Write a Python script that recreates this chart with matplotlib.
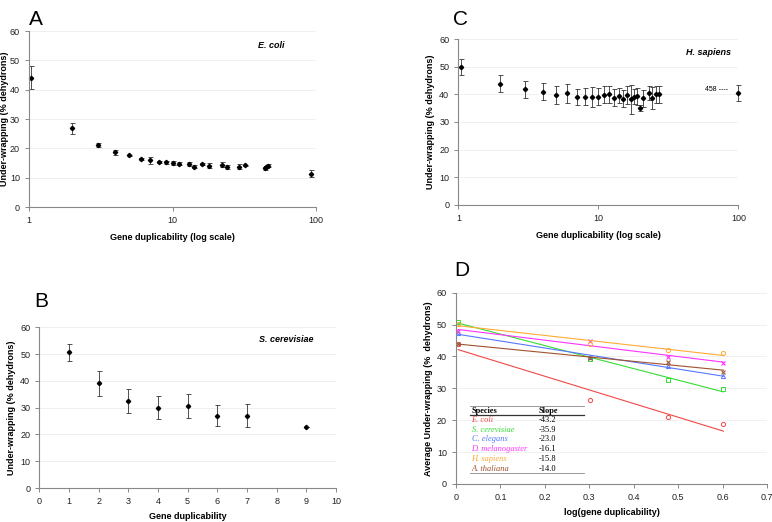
import numpy as np
import matplotlib
matplotlib.use("Agg")
import matplotlib.pyplot as plt

plt.rcParams["font.family"] = ["Liberation Sans", "DejaVu Sans"]

# Panel A - E. coli
ecoli_dup = [1.03, 2, 3, 4, 5, 6, 7, 8, 9, 10, 11, 13, 14, 16, 18, 22, 24, 29, 32, 44, 45, 46, 92]
ecoli_val = [44.1, 26.8, 21.2, 18.7, 17.6, 16.4, 15.9, 15.4, 15.2, 15.0, 14.7, 14.6, 13.8, 14.7, 14.1,
             14.5, 13.7, 13.8, 14.2, 13.2, 13.7, 14.1, 11.3]
ecoli_err = [4.0, 1.8, 0.8, 0.9, 0.3, 0.3, 1.3, 0.4, 0.4, 0.7, 0.5, 0.6, 0.4, 0.3, 0.8,
             0.9, 0.6, 1.0, 0.3, 0.5, 0.4, 0.6, 1.2]

# Panel B - S. cerevisiae
yeast_dup = [1, 2, 3, 4, 5, 6, 7, 9]
yeast_val = [50.7, 39.1, 32.6, 30.0, 30.5, 27.0, 27.0, 22.7]
yeast_err = [3.2, 4.6, 4.5, 4.3, 4.5, 3.9, 4.2, 0.0]

# Panel C - H. sapiens
human_dup = [1.05, 2, 3, 4, 5, 6, 7, 8, 9, 10, 11, 12, 13, 14, 15, 16, 17, 18, 19, 20, 21, 23, 24, 26, 27, 100]
human_val = [50.1, 43.8, 41.8, 41.0, 39.8, 40.4, 39.2, 39.2, 39.2, 39.2, 39.9, 40.0, 38.8, 39.5, 38.5,
             39.8, 38.2, 39.2, 39.3, 35.0, 38.6, 40.4, 38.8, 40.0, 40.0, 40.6]
human_err = [2.9, 3.1, 3.0, 3.0, 3.4, 3.5, 2.9, 3.1, 3.6, 3.2, 3.0, 3.1, 3.0, 2.8, 3.0,
             3.2, 5.2, 2.6, 3.1, 1.0, 3.0, 2.5, 4.0, 3.0, 3.0, 2.9]

# Panel D - averages vs log(duplicability)
log_dup = [0.005, 0.301, 0.477, 0.602]
species = ["E. coli", "S. cerevisiae", "C. elegans", "D. melanogaster", "H. sapiens", "A. thaliana"]
slopes = ["-43.2", "-35.9", "-23.0", "-16.1", "-15.8", "-14.0"]
avg_vals = [
    [43.8, 26.5, 21.1, 18.7],
    [50.9, 39.2, 32.6, 29.8],
    [47.2, 39.7, 37.0, 33.8],
    [47.9, 44.7, 39.8, 38.0],
    [50.3, 43.8, 42.0, 41.1],
    [43.9, 39.4, 38.3, 35.2],
]
colors = ["#f04848", "#33dd33", "#5577ff", "#ff33ff", "#ffaa33", "#a0522d"]
markers = ["o", "s", "^", "x", "o", "x"]

GRAY = "#888888"


def style_axes(ax):
    for s in ["top", "right"]:
        ax.spines[s].set_visible(False)
    for s in ["left", "bottom"]:
        ax.spines[s].set_color(GRAY)
        ax.spines[s].set_linewidth(0.8)
    ax.tick_params(colors=GRAY, labelcolor="#222222", labelsize=6.5, length=3, width=0.7)
    ax.set_ylim(0, 60)
    ax.set_yticks(range(0, 61, 10))
    ax.yaxis.grid(True, color="#eeeeee", linewidth=0.6)
    ax.set_axisbelow(True)


def ylab(ax, text, xpos):
    ax.set_ylabel(text, fontsize=6.5, fontweight="bold")
    ax.yaxis.set_label_coords(xpos, 0.5)


fig = plt.figure(figsize=(7.72, 5.22), dpi=100)

# A
axA = fig.add_axes([0.0376, 0.6034, 0.372, 0.337])
style_axes(axA)
axA.errorbar(ecoli_dup, ecoli_val, yerr=ecoli_err, fmt="D", ms=2.2, color="black",
             ecolor="#333333", elinewidth=0.6, capsize=1.8, capthick=0.6, clip_on=False)
axA.set_xscale("log")
axA.set_xlim(1, 100)
axA.set_xticks([1, 10, 100])
axA.set_xticklabels(["1", "10", "100"])
axA.minorticks_off()
axA.set_xlabel("Gene duplicability (log scale)", fontsize=6.5, fontweight="bold", labelpad=6)
ylab(axA, "Under-wrapping (% dehydrons)", -0.07)
axA.text(60, 55.2, "E. coli", fontsize=6.5, fontweight="bold", style="italic", ha="right", va="center")

# B
axB = fig.add_axes([0.0509, 0.0651, 0.3843, 0.3079])
style_axes(axB)
axB.errorbar(yeast_dup, yeast_val, yerr=yeast_err, fmt="D", ms=2.2, color="black",
             ecolor="#333333", elinewidth=0.6, capsize=1.8, capthick=0.6)
axB.set_xlim(0, 10)
axB.set_xticks(range(0, 11))
axB.set_xlabel("Gene duplicability", fontsize=6.5, fontweight="bold", labelpad=4)
ylab(axB, "Under-wrapping (% dehydrons)", -0.079)
axB.text(9.25, 55.3, "S. cerevisiae", fontsize=6.5, fontweight="bold", style="italic", ha="right", va="center")

# C
axC = fig.add_axes([0.5937, 0.6079, 0.3627, 0.3169])
style_axes(axC)
axC.errorbar(human_dup, human_val, yerr=human_err, fmt="D", ms=2.2, color="black",
             ecolor="#333333", elinewidth=0.6, capsize=1.8, capthick=0.6, clip_on=False)
axC.set_xscale("log")
axC.set_xlim(1, 100)
axC.set_xticks([1, 10, 100])
axC.set_xticklabels(["1", "10", "100"])
axC.minorticks_off()
axC.set_xlabel("Gene duplicability (log scale)", fontsize=6.5, fontweight="bold", labelpad=6)
ylab(axC, "Under-wrapping (% dehydrons)", -0.083)
axC.text(89, 55.3, "H. sapiens", fontsize=6.5, fontweight="bold", style="italic", ha="right", va="center")
axC.text(85, 41.6, "458 ----", fontsize=5, ha="right", va="center")

# D
axD = fig.add_axes([0.5907, 0.0728, 0.4028, 0.3665])
style_axes(axD)
axD.set_xlim(0, 0.7)
axD.set_xticks(np.arange(0, 0.71, 0.1))
axD.set_xticklabels(["0", "0.1", "0.2", "0.3", "0.4", "0.5", "0.6", "0.7"])
xs = np.array(log_dup)
for vals, c, m in zip(avg_vals, colors, markers):
    k, b = np.polyfit(xs, vals, 1)
    axD.plot([xs[0], xs[-1]], [k * xs[0] + b, k * xs[-1] + b], color=c, lw=0.8)
    if m == "x":
        axD.plot(xs, vals, ls="none", marker=m, ms=3, color=c, mew=0.8)
    else:
        axD.plot(xs, vals, ls="none", marker=m, ms=3, mfc="none", mec=c, mew=0.7)
axD.set_xlabel("log(gene duplicability)", fontsize=6.5, fontweight="bold", labelpad=4)
ylab(axD, "Average Under-wrapping (%  dehydrons)", -0.074)

# slope table
tx0, tx1, tcol = 0.032, 0.287, 0.186
axD.plot([tx0, tx1], [24.6, 24.6], color=GRAY, lw=0.6)
axD.plot([tx0, tx1], [21.6, 21.6], color="#333333", lw=0.9)
axD.plot([tx0, tx1], [3.5, 3.5], color=GRAY, lw=0.6)
axD.text(tx0 + 0.003, 23.0, "Species", family="Liberation Serif", fontsize=6, fontweight="bold", va="center")
axD.text(tcol, 23.0, "Slope", family="Liberation Serif", fontsize=6, fontweight="bold", va="center")
for i, (sp, sl, c) in enumerate(zip(species, slopes, colors)):
    yy = 20.1 - 3.06 * i
    axD.text(tx0 + 0.003, yy, sp, family="Liberation Serif", fontsize=6, style="italic", color=c, va="center")
    axD.text(tcol, yy, sl, family="Liberation Serif", fontsize=6, va="center")

# panel letters
fig.text(0.037, 0.98, "A", fontsize=15, va="top", ha="left")
fig.text(0.045, 0.44, "B", fontsize=15, va="top", ha="left")
fig.text(0.587, 0.98, "C", fontsize=15, va="top", ha="left")
fig.text(0.588, 0.50, "D", fontsize=15, va="top", ha="left")

fig.savefig("out.png", dpi=100)
